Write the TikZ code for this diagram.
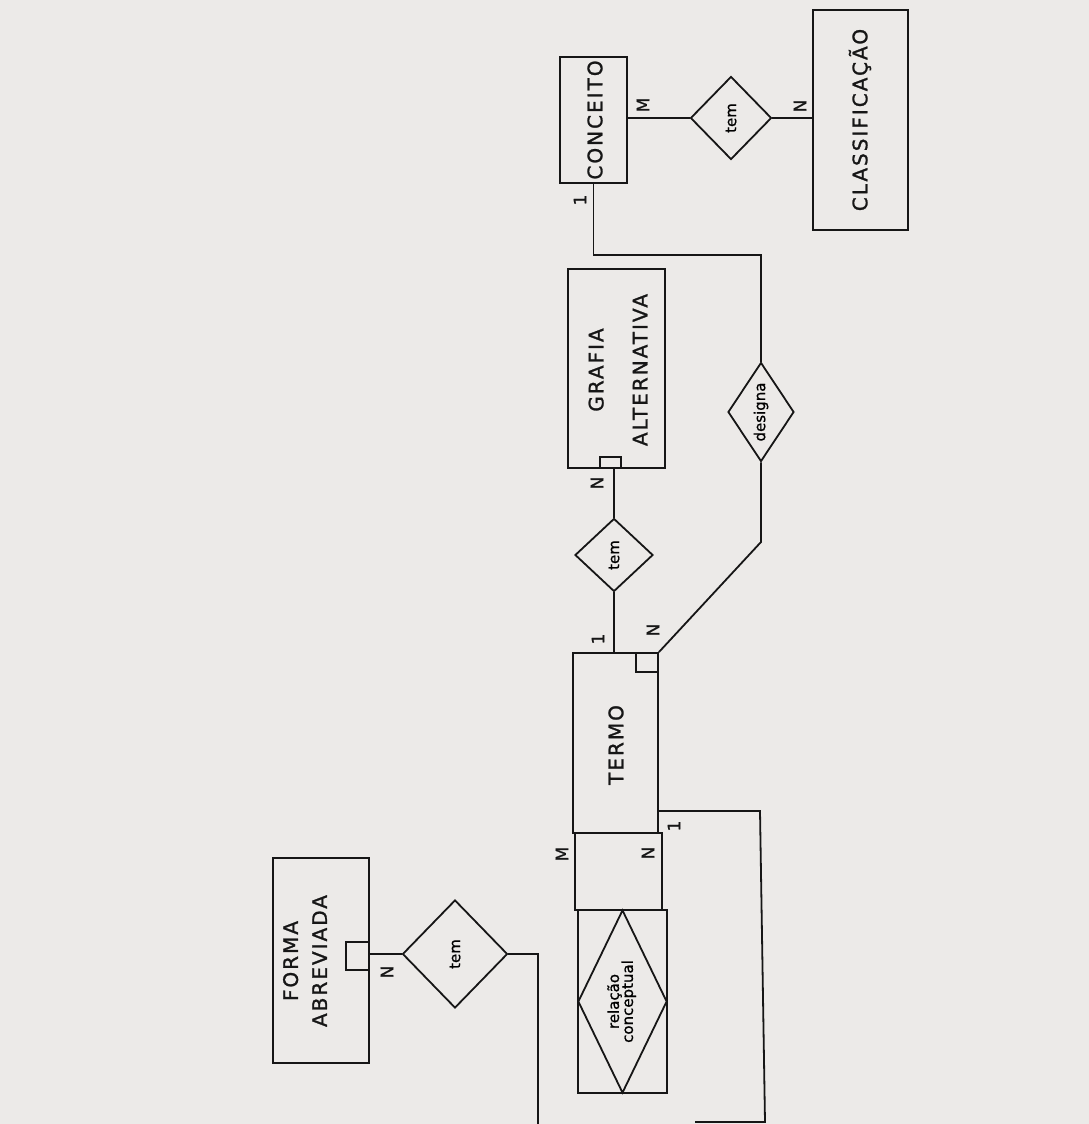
\documentclass[tikz,border=0pt]{standalone}
\usepackage{fontspec}
\usepackage{graphicx}
\setmainfont{DejaVu Sans}
\newfontfamily\entfont[LetterSpace=10,FakeBold=1.2]{DejaVu Sans}
\newfontfamily\smallfont[FakeBold=1.0]{DejaVu Sans}
\usetikzlibrary{shapes.geometric,fit}
\definecolor{paper}{RGB}{236,234,232}
\definecolor{ink}{RGB}{22,22,22}
\begin{document}
\begin{tikzpicture}[x=1pt,y=-1pt,line width=1.8pt,
  box/.style={draw=ink,rectangle,inner sep=0pt,line width=1.8pt},
  rel/.style={draw=ink,diamond,inner sep=0pt,line width=1.8pt,font=\smallfont\fontsize{15}{17}\selectfont,align=center},
  enttext/.style={rotate=90,inner sep=0pt,text=ink,font=\entfont\fontsize{20}{24}\selectfont,align=center},
  card/.style={rotate=90,inner sep=0pt,text=ink,font=\smallfont\fontsize{17}{17}\selectfont},
  conn/.style={draw=ink,line width=1.8pt}]
\fill[paper] (0,0) rectangle (1089,1124);
\useasboundingbox (0,0) rectangle (1089,1124);

% entities
\node[box,fit={(560,57)(627,183)}] (conceito) {};
\node[enttext] (conceitoT) at (595,120) {CONCEITO};
\node[box,fit={(813,10)(908,230)}] (classif) {};
\node[enttext] (classifT) at (860,120) {CLASSIFICAÇÃO};
\node[box,fit={(568,269)(665,468)}] (grafia) {};
\node[enttext] (grafiaT) at (618,370) {GRAFIA\\[20pt]ALTERNATIVA};
\node[box,fit={(600,457)(621,468)}] (grafiaSq) {};
\node[box,fit={(573,653)(658,833)}] (termo) {};
\node[enttext] (termoT) at (616,745) {TERMO};
\node[box,fit={(636,653)(658,672)}] (termoSq) {};
\node[box,fit={(575,833)(662,910)}] (mid) {};
\node[box,fit={(578,910)(667,1093)}] (relbox) {};
\node[box,fit={(273,858)(369,1063)}] (forma) {};
\node[enttext] (formaT) at (305,961) {FORMA\\[5pt]ABREVIADA};
\node[box,fit={(346,942)(369,970)}] (formaSq) {};

% relationships
\node[rel,minimum width=81,minimum height=83] (tem1) at (731,118) {\rotatebox{90}{tem}};
\node[rel,aspect=0.66,minimum width=66,minimum height=99] (designa) at (761,412) {\rotatebox{90}{designa}};
\node[rel,minimum width=78,minimum height=73] (tem2) at (614,555) {\rotatebox{90}{tem}};
\node[rel,minimum width=105,minimum height=108] (tem3) at (455,954) {\rotatebox{90}{tem}};
\node[rel,aspect=0.49,minimum width=89,minimum height=183] (reldia) at (relbox.center)
  {\rotatebox{90}{\begin{tabular}{@{}c@{}}relação\\[-3pt]conceptual\end{tabular}}};

% connectors
\draw[conn] (tem1.west) -- (tem1.west -| conceito.east);
\draw[conn] (tem1.east) -- (tem1.east -| classif.west);
\coordinate (c1) at (595,255);
\draw[conn] (conceito.south) -- (conceito.south |- c1) -| (designa.north);
\coordinate (d1) at (761,542);
\draw[conn] (designa.south) -- (d1) -- (termo.north east);
\draw[conn] (tem2.north) -- (tem2.north |- grafia.south);
\draw[conn] (tem2.south) -- (tem2.south |- termo.north);
\coordinate (r1) at (760,811);
\coordinate (r2) at (765,1122);
\coordinate (r3) at (695,1122);
\draw[conn] (termo.east |- r1) -- (r1) -- (r2) -- (r3);
\draw[conn] (tem3.west) -- (tem3.west -| forma.east);
\coordinate (f1) at (538,1124);
\draw[conn] (tem3.east) -| (f1);

% cardinalities
\node[card] (cM1) at (643,105) {M};
\node[card] (cN1) at (800,106) {N};
\node[card] (c11) at (580,200) {1};
\node[card] (cN2) at (597,483) {N};
\node[card] (c12) at (598,639) {1};
\node[card] (cN3) at (653,630) {N};
\node[card] (cM2) at (562,854) {M};
\node[card] (cN4) at (648,853) {N};
\node[card] (c13) at (674,826) {1};
\node[card] (cN5) at (387,972) {N};
\end{tikzpicture}
\end{document}
